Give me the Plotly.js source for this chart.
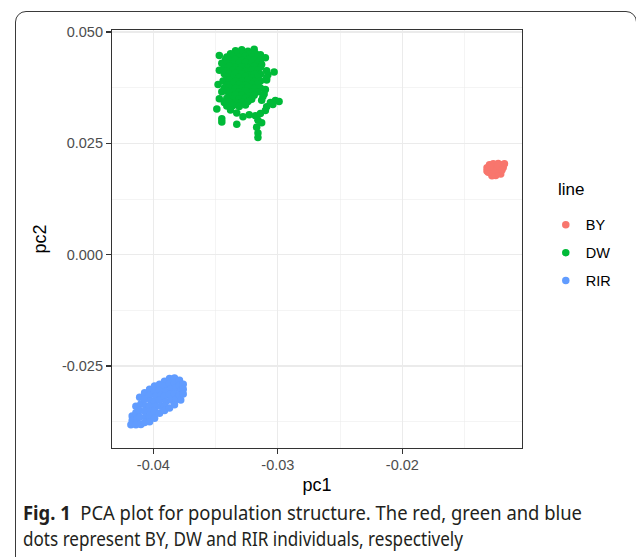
<!DOCTYPE html>
<html>
<head>
<meta charset="utf-8">
<script src="https://cdn.plot.ly/plotly-3.0.1.min.js"></script>
<style>
  html, body { margin: 0; padding: 0; background: #fff; }
  #wrap { position: relative; width: 636px; height: 557px; overflow: hidden; }
  #plot { position: absolute; left: 0; top: 0; width: 636px; height: 557px; }
  #frame { position: absolute; left: 15px; top: 11px; width: 622px; height: 600px;
           border: 1.4px solid #3a3a3a; border-radius: 11px; box-sizing: border-box; pointer-events: none; }
  .cap { position: absolute; left: 23px; font-family: "Noto Sans", "Open Sans", sans-serif;
         font-size: 19px; color: #231f20; white-space: nowrap; transform-origin: 0 0; }
  .cap b { font-weight: 700; }
</style>
</head>
<body>
<div id="wrap">
  <div id="plot"></div>
  <div id="frame"></div>
  <div class="cap" id="cap1" style="top:500px"><b>Fig. 1</b>&nbsp; PCA plot for population structure. The red, green and blue</div>
  <div class="cap" id="cap2" style="top:526px">dots represent BY, DW and RIR individuals, respectively</div>
</div>
<script>
// ---- data: [pc1, pc2] pairs ----
const seriesNames = ["BY", "DW", "RIR"];
const seriesColors = ["#F8766D", "#00BA38", "#619CFF"];

const byPoints = [
  [-0.0132,0.0195],[-0.0132,0.0188],[-0.0130,0.0202],[-0.0129,0.0192],[-0.0129,0.0183],[-0.0127,0.0204],
  [-0.0126,0.0196],[-0.0126,0.0187],[-0.0125,0.0178],[-0.0123,0.0205],[-0.0122,0.0197],[-0.0122,0.0189],
  [-0.0121,0.0181],[-0.0120,0.0202],[-0.0119,0.0196],[-0.0124,0.0183],[-0.0128,0.0177],[-0.0124,0.0192],
  [-0.0131,0.0185],[-0.0118,0.0204],[-0.0127,0.0190],[-0.0123,0.0200],[-0.0120,0.0190],[-0.0130,0.0197]
];

const dwPoints = [
  [-0.0334,0.0458],[-0.0329,0.0460],[-0.0324,0.0457],[-0.0319,0.0461],
  [-0.0338,0.0451],[-0.0333,0.0452],[-0.0328,0.0450],[-0.0323,0.0451],[-0.0318,0.0452],[-0.0314,0.0449],
  [-0.0347,0.0447],[-0.0341,0.0444],[-0.0336,0.0445],[-0.0331,0.0443],[-0.0326,0.0446],[-0.0321,0.0444],[-0.0316,0.0445],[-0.0310,0.0442],
  [-0.0342,0.0438],[-0.0339,0.0437],[-0.0334,0.0439],[-0.0329,0.0436],[-0.0324,0.0438],[-0.0319,0.0437],[-0.0314,0.0436],
  [-0.0345,0.0430],[-0.0341,0.0431],[-0.0336,0.0429],[-0.0331,0.0430],[-0.0326,0.0432],[-0.0321,0.0429],[-0.0316,0.0430],[-0.0313,0.0427],
  [-0.0343,0.0422],[-0.0339,0.0423],[-0.0334,0.0421],[-0.0329,0.0422],[-0.0324,0.0420],[-0.0319,0.0423],[-0.0314,0.0421],
  [-0.0347,0.0414],[-0.0341,0.0413],[-0.0336,0.0415],[-0.0331,0.0414],[-0.0326,0.0412],[-0.0321,0.0414],[-0.0316,0.0415],[-0.0309,0.0413],
  [-0.0343,0.0406],[-0.0339,0.0405],[-0.0334,0.0407],[-0.0329,0.0406],[-0.0324,0.0404],[-0.0319,0.0406],[-0.0314,0.0405],[-0.0308,0.0404],
  [-0.0341,0.0399],[-0.0336,0.0397],[-0.0331,0.0398],[-0.0326,0.0400],[-0.0321,0.0397],[-0.0316,0.0398],
  [-0.0344,0.0390],[-0.0339,0.0391],[-0.0334,0.0389],[-0.0329,0.0390],[-0.0324,0.0392],[-0.0319,0.0389],[-0.0314,0.0390],[-0.0309,0.0392],
  [-0.0348,0.0382],[-0.0341,0.0381],[-0.0336,0.0383],[-0.0331,0.0382],[-0.0326,0.0380],[-0.0321,0.0382],[-0.0316,0.0383],
  [-0.0343,0.0374],[-0.0339,0.0375],[-0.0334,0.0373],[-0.0329,0.0374],[-0.0324,0.0376],[-0.0319,0.0373],[-0.0314,0.0374],[-0.0310,0.0371],
  [-0.0345,0.0366],[-0.0341,0.0367],[-0.0336,0.0365],[-0.0331,0.0366],[-0.0326,0.0368],[-0.0321,0.0365],[-0.0316,0.0366],[-0.0311,0.0361],
  [-0.0339,0.0357],[-0.0334,0.0359],[-0.0329,0.0358],[-0.0324,0.0356],[-0.0319,0.0358],[-0.0312,0.0355],
  [-0.0347,0.0350],[-0.0341,0.0351],[-0.0336,0.0349],[-0.0331,0.0350],[-0.0326,0.0352],[-0.0321,0.0349],[-0.0313,0.0347],
  [-0.0343,0.0342],[-0.0339,0.0343],[-0.0334,0.0341],[-0.0329,0.0342],[-0.0324,0.0344],
  [-0.0341,0.0334],[-0.0336,0.0335],[-0.0331,0.0333],[-0.0326,0.0336],
  [-0.0303,0.0410],[-0.0309,0.0397],
  [-0.0306,0.0342],[-0.0302,0.0346],[-0.0299,0.0344],[-0.0304,0.0337],[-0.0309,0.0332],
  [-0.0349,0.0327],[-0.0345,0.0305],[-0.0345,0.0298],
  [-0.0328,0.0310],[-0.0323,0.0314],[-0.0318,0.0312],[-0.0314,0.0317],[-0.0310,0.0324],[-0.0333,0.0318],[-0.0338,0.0325],
  [-0.0333,0.0293],
  [-0.0316,0.0302],[-0.0317,0.0286],[-0.0316,0.0273],[-0.0316,0.0263],[-0.0313,0.0296]
];

const rirPoints = [
  [-0.0417,-0.0362],[-0.0417,-0.0372],[-0.0418,-0.0382],
  [-0.0414,-0.0340],[-0.0414,-0.0355],[-0.0413,-0.0368],[-0.0414,-0.0382],
  [-0.0411,-0.0320],[-0.0410,-0.0335],[-0.0411,-0.0350],[-0.0411,-0.0365],[-0.0410,-0.0381],
  [-0.0407,-0.0310],[-0.0407,-0.0325],[-0.0406,-0.0340],[-0.0407,-0.0352],[-0.0406,-0.0365],[-0.0407,-0.0377],
  [-0.0403,-0.0302],[-0.0403,-0.0315],[-0.0402,-0.0328],[-0.0403,-0.0340],[-0.0402,-0.0352],[-0.0403,-0.0363],[-0.0403,-0.0375],
  [-0.0399,-0.0295],[-0.0399,-0.0307],[-0.0398,-0.0318],[-0.0399,-0.0330],[-0.0398,-0.0341],[-0.0399,-0.0352],[-0.0399,-0.0367],
  [-0.0395,-0.0291],[-0.0395,-0.0303],[-0.0394,-0.0315],[-0.0395,-0.0327],[-0.0394,-0.0340],[-0.0395,-0.0356],
  [-0.0391,-0.0284],[-0.0391,-0.0295],[-0.0390,-0.0307],[-0.0391,-0.0318],[-0.0390,-0.0330],[-0.0391,-0.0341],[-0.0391,-0.0350],
  [-0.0387,-0.0278],[-0.0387,-0.0290],[-0.0386,-0.0302],[-0.0387,-0.0314],[-0.0386,-0.0326],[-0.0387,-0.0344],
  [-0.0383,-0.0277],[-0.0383,-0.0288],[-0.0382,-0.0300],[-0.0383,-0.0312],[-0.0382,-0.0325],[-0.0383,-0.0337],
  [-0.0379,-0.0282],[-0.0379,-0.0293],[-0.0378,-0.0304],[-0.0379,-0.0315],[-0.0378,-0.0326],
  [-0.0376,-0.0291],[-0.0376,-0.0302],[-0.0376,-0.0313]
];

const xTickVals = [-0.04, -0.03, -0.02];
const xTickText = ["-0.04", "-0.03", "-0.02"];
const xMinorVals = [-0.035, -0.025, -0.015];
const yTickVals = [-0.025, 0.000, 0.025, 0.050];
const yTickText = ["-0.025", "0.000", "0.025", "0.050"];
const yMinorVals = [-0.0375, -0.0125, 0.0125, 0.0375];

const allPoints = [byPoints, dwPoints, rirPoints];

const traces = seriesNames.map((n, i) => ({
  type: "scatter", mode: "markers", name: n, legendgroup: n,
  x: allPoints[i].map(p => p[0]), y: allPoints[i].map(p => p[1]),
  marker: { color: seriesColors[i], size: 7.5, line: { width: 0 } },
  hoverinfo: "x+y+name"
}));

const gridC = "#ebebeb";
const axisCommon = {
  showline: true, mirror: true, linecolor: "#333333", linewidth: 1.1,
  ticks: "outside", ticklen: 5, tickwidth: 1.1, tickcolor: "#333333",
  showgrid: true, gridcolor: gridC, gridwidth: 1.1,
  zeroline: false, tickmode: "array",
  tickfont: { family: "Liberation Sans, Arial, sans-serif", size: 14.5, color: "#4d4d4d" }
};

const layout = {
  width: 636, height: 557,
  margin: { l: 112, r: 114, t: 30, b: 109 },
  paper_bgcolor: "#ffffff", plot_bgcolor: "#ffffff",
  font: { family: "Liberation Sans, Arial, sans-serif", color: "#000" },
  xaxis: Object.assign({}, axisCommon, {
    range: [-0.04332, -0.01039], tickvals: xTickVals, ticktext: xTickText,
    ticklabelstandoff: -2,
    minor: { tickvals: xMinorVals, showgrid: true, gridcolor: gridC, gridwidth: 0.55, ticks: "" },
    title: { text: "pc1", font: { size: 18, color: "#000" }, standoff: 6 }
  }),
  yaxis: Object.assign({}, axisCommon, {
    range: [-0.0434, 0.05045], tickvals: yTickVals, ticktext: yTickText,
    minor: { tickvals: yMinorVals, showgrid: true, gridcolor: gridC, gridwidth: 0.55, ticks: "" },
    title: { text: "pc2", font: { size: 18, color: "#000" }, standoff: 10 }
  }),
  showlegend: true,
  legend: {
    x: 1.058, xanchor: "left", y: 0.572, yanchor: "top",
    traceorder: "grouped", tracegroupgap: 6,
    font: { size: 14.5, color: "#000" }, bgcolor: "rgba(0,0,0,0)", borderwidth: 0
  },
  annotations: [{
    text: "line", xref: "paper", yref: "paper", x: 1.084, y: 0.618,
    xanchor: "left", yanchor: "middle", showarrow: false,
    font: { size: 17, color: "#000" }
  }]
};

Plotly.newPlot("plot", traces, layout, { displayModeBar: false, staticPlot: true }).then(() => {
  const fit = (id, w) => {
    const el = document.getElementById(id);
    const cw = el.getBoundingClientRect().width;
    el.style.transform = "scaleX(" + (w / cw) + ")";
  };
  fit("cap1", 559);
  fit("cap2", 440);
});
</script>
</body>
</html>
